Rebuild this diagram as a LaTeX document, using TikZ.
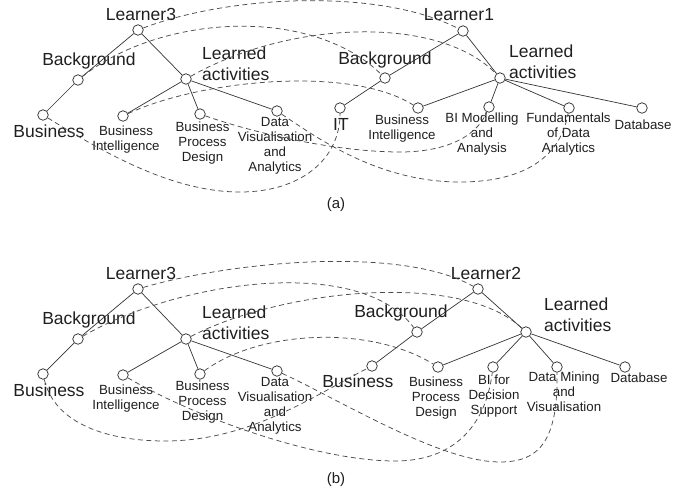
\documentclass[tikz,border=0pt]{standalone}
\usepackage{fontspec}
\setmainfont{Liberation Sans}
\begin{document}
\begin{tikzpicture}[x=1pt,y=-1pt,
  pt/.style={circle, draw=black!85, fill=white, line width=0.7pt, inner sep=0pt, minimum size=10.5pt},
  big/.style={font=\fontsize{17.5}{20.5}\selectfont, text=black!88, inner sep=0pt},
  sml/.style={font=\fontsize{13.3}{15}\selectfont, text=black!88, inner sep=0pt, align=center, anchor=north},
  edge/.style={draw=black!80, line width=0.7pt},
  link/.style={draw=black!70, line width=0.75pt, dash pattern=on 5pt off 3.5pt},
  capt/.style={font=\fontsize{15}{18}\selectfont, text=black!88, inner sep=0pt}]
\useasboundingbox (0,0) rectangle (694,493);

% ---------------- panel (a) ----------------
\node[pt] (a3) at (138,30) {};
\node[pt] (a3bg) at (78,80) {};
\node[pt] (a3la) at (186,79) {};
\node[pt] (a3bus) at (43,115) {};
\node[pt] (a3bi) at (123,116) {};
\node[pt] (a3bpd) at (200,114) {};
\node[pt] (a3dva) at (277,111) {};
\node[pt] (a1) at (463,31) {};
\node[pt] (a1bg) at (385,78) {};
\node[pt] (a1la) at (500,78) {};
\node[pt] (a1it) at (340,108) {};
\node[pt] (a1bi) at (418,108) {};
\node[pt] (a1bim) at (489,107) {};
\node[pt] (a1fda) at (569,108) {};
\node[pt] (a1db) at (642,108) {};

\draw[edge] (a3) -- (a3bg);
\draw[edge] (a3) -- (a3la);
\draw[edge] (a3bg) -- (a3bus);
\draw[edge] (a3la) -- (a3bi);
\draw[edge] (a3la) -- (a3bpd);
\draw[edge] (a3la) -- (a3dva);
\draw[edge] (a1) -- (a1bg);
\draw[edge] (a1) -- (a1la);
\draw[edge] (a1bg) -- (a1it);
\draw[edge] (a1la) -- (a1bi);
\draw[edge] (a1la) -- (a1bim);
\draw[edge] (a1la) -- (a1fda);
\draw[edge] (a1la) -- (a1db);

\node[big, anchor=base] (ta3) at (141,20) {Learner3};
\node[big, anchor=base] (ta3bg) at (89,65.5) {Background};
\node[big, anchor=base west] (ta3la) at (202,59.5) {Learned};
\node[big, anchor=base west] (ta3lb) at (202,80) {activities};
\node[big, anchor=base] (ta3bus) at (49,137.5) {Business};
\node[sml] (ta3bi) at (126,126) {Business\\Intelligence};
\node[sml] (ta3bpd) at (202.5,122) {Business\\Process\\Design};
\node[sml] (ta3dva) at (275,117) {Data\\Visualisation\\and\\Analytics};

\node[big, anchor=base] (ta1) at (459,20.5) {Learner1};
\node[big, anchor=base] (ta1bg) at (385,64) {Background};
\node[big, anchor=base west] (ta1la) at (509,57.5) {Learned};
\node[big, anchor=base west] (ta1lb) at (509,78) {activities};
\node[big, anchor=base] (ta1it) at (341,130) {IT};
\node[sml] (ta1bi) at (402,115) {Business\\Intelligence};
\node[sml] (ta1bim) at (482,113) {BI Modelling\\and\\Analysis};
\node[sml] (ta1fda) at (568.5,113) {Fundamentals\\of Data\\Analytics};
\node[sml] (ta1db) at (643,120) {Database};

\draw[link] (a3) .. controls (230,-5) and (380,-12) .. (a1);
\draw[link] (a3bg) .. controls (160,15) and (310,5) .. (a1bg);
\draw[link] (a3la) .. controls (290,20) and (440,15) .. (a1la);
\draw[link] (a3bi) .. controls (200,80) and (350,65) .. (a1bi);
\draw[link] (a3bus) .. controls (100,150) and (170,192) .. (240,192) .. controls (300,192) and (340,160) .. (a1it);
\draw[link] (a3bpd) .. controls (260,135) and (340,152) .. (400,152) .. controls (440,152) and (475,140) .. (a1bim);
\draw[link] (a3dva) .. controls (320,140) and (380,182) .. (460,182) .. controls (520,182) and (560,160) .. (a1fda);

\node[capt] (capa) at (336,205) {(a)};

% ---------------- panel (b) ----------------
\node[pt] (b3) at (138,289) {};
\node[pt] (b3bg) at (78,339) {};
\node[pt] (b3la) at (186,339) {};
\node[pt] (b3bus) at (43,374) {};
\node[pt] (b3bi) at (123,375) {};
\node[pt] (b3bpd) at (200,374) {};
\node[pt] (b3dva) at (277,371) {};
\node[pt] (b2) at (478,289) {};
\node[pt] (b2bg) at (417,332) {};
\node[pt] (b2la) at (526,332) {};
\node[pt] (b2bus) at (372,366) {};
\node[pt] (b2bpd) at (438,367) {};
\node[pt] (b2bids) at (493,367) {};
\node[pt] (b2dm) at (557,367) {};
\node[pt] (b2db) at (625,367) {};

\draw[edge] (b3) -- (b3bg);
\draw[edge] (b3) -- (b3la);
\draw[edge] (b3bg) -- (b3bus);
\draw[edge] (b3la) -- (b3bi);
\draw[edge] (b3la) -- (b3bpd);
\draw[edge] (b3la) -- (b3dva);
\draw[edge] (b2) -- (b2bg);
\draw[edge] (b2) -- (b2la);
\draw[edge] (b2bg) -- (b2bus);
\draw[edge] (b2la) -- (b2bpd);
\draw[edge] (b2la) -- (b2bids);
\draw[edge] (b2la) -- (b2dm);
\draw[edge] (b2la) -- (b2db);

\node[big, anchor=base] (tb3) at (141,279) {Learner3};
\node[big, anchor=base] (tb3bg) at (89,324.5) {Background};
\node[big, anchor=base west] (tb3la) at (202,318.5) {Learned};
\node[big, anchor=base west] (tb3lb) at (202,339) {activities};
\node[big, anchor=base] (tb3bus) at (49,396.5) {Business};
\node[sml] (tb3bi) at (126,385) {Business\\Intelligence};
\node[sml] (tb3bpd) at (202.5,381) {Business\\Process\\Design};
\node[sml] (tb3dva) at (275,377) {Data\\Visualisation\\and\\Analytics};

\node[big, anchor=base] (tb2) at (486,279.5) {Learner2};
\node[big, anchor=base] (tb2bg) at (401,317.5) {Background};
\node[big, anchor=base west] (tb2la) at (544,310.5) {Learned};
\node[big, anchor=base west] (tb2lb) at (544,331) {activities};
\node[big, anchor=base] (tb2bus) at (358,387.5) {Business};
\node[sml] (tb2bpd) at (436,377) {Business\\Process\\Design};
\node[sml] (tb2bids) at (494,375) {BI for\\Decision\\Support};
\node[sml] (tb2dm) at (564,372) {Data Mining\\and\\Visualisation};
\node[sml] (tb2db) at (639,373) {Database};

\draw[link] (b3) .. controls (230,262) and (400,245) .. (b2);
\draw[link] (b3bg) .. controls (180,280) and (360,255) .. (b2bg);
\draw[link] (b3la) .. controls (280,290) and (460,270) .. (b2la);
\draw[link] (b3bpd) .. controls (260,330) and (370,325) .. (b2bpd);
\draw[link] (b3bus) .. controls (55,425) and (110,441) .. (165,441) .. controls (250,441) and (315,395) .. (b2bus);
\draw[link] (b3bi) .. controls (200,420) and (320,461) .. (395,461) .. controls (450,461) and (485,430) .. (b2bids);
\draw[link] (b3dva) .. controls (340,400) and (440,462) .. (500,462) .. controls (540,462) and (558,440) .. (b2dm);

\node[capt] (capb) at (336,480) {(b)};
\end{tikzpicture}
\end{document}
